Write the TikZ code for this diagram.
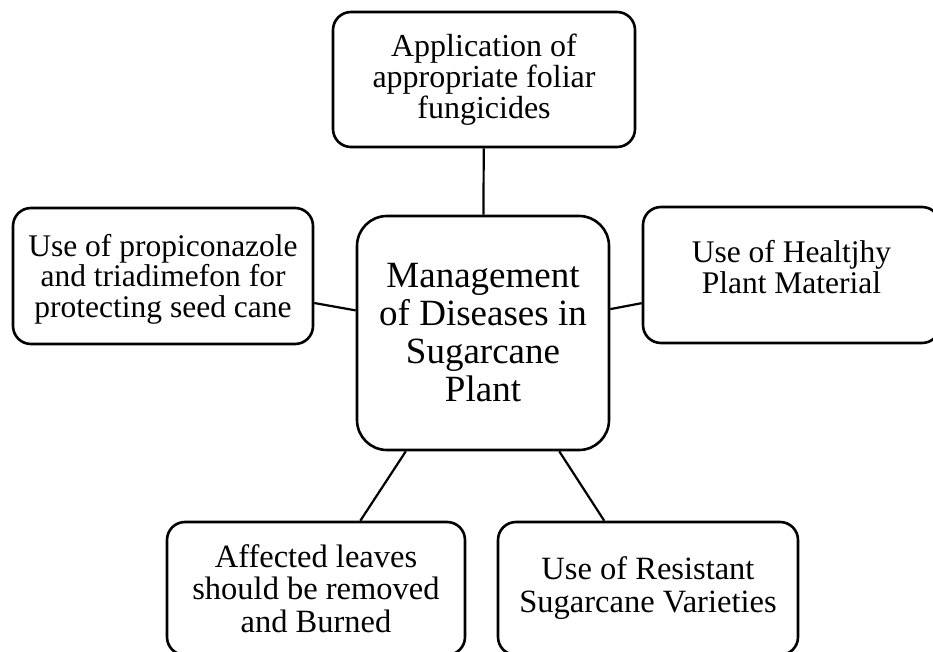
\documentclass[tikz,border=0pt]{standalone}
\usepackage{fontspec}
\setmainfont{Liberation Serif}
\begin{document}
\begin{tikzpicture}[x=1pt,y=-1pt,
  box/.style={draw=black, line width=2.6pt, rounded corners=18pt, align=center, inner sep=0pt},
  link/.style={draw=black, line width=2.2pt}]
\useasboundingbox (0,0) rectangle (933,652);
\clip (0,0) rectangle (933,652);
\node[box, minimum width=302pt, minimum height=135pt, font=\fontsize{32}{31}\selectfont] (top) at (484,79.5) {Application of\\appropriate foliar\\fungicides};
\node[box, minimum width=252pt, minimum height=234pt, rounded corners=30pt, font=\fontsize{37}{38}\selectfont] (center) at (483,333) {Management\\of Diseases in\\Sugarcane\\Plant};
\node[box, minimum width=300pt, minimum height=136pt, font=\fontsize{31.5}{29}\selectfont] (left) at (163,276) {\raisebox{-4pt}[\height][\depth]{\begin{tabular}{@{}c@{}}Use of propiconazole\\and triadimefon for\\protecting seed cane\end{tabular}}};
\node[box, minimum width=297pt, minimum height=136pt, font=\fontsize{31.5}{28}\selectfont] (right) at (791.5,275) {\raisebox{4pt}[\height][\depth]{\begin{tabular}{@{}c@{}}Use of Healtjhy\\Plant Material\end{tabular}}};
\node[box, minimum width=298pt, minimum height=133pt, font=\fontsize{32.5}{32.5}\selectfont] (bl) at (316,588.5) {Affected leaves\\should be removed\\and Burned};
\node[box, minimum width=300pt, minimum height=133pt, font=\fontsize{32.5}{33}\selectfont] (br) at (648,588.5) {Use of Resistant\\Sugarcane Varieties};
\draw[link] (top) -- (center);
\draw[link] (left) -- (center);
\draw[link] (right) -- (center);
\draw[link] (bl) -- (center);
\draw[link] (br) -- (center);
\end{tikzpicture}
\end{document}
